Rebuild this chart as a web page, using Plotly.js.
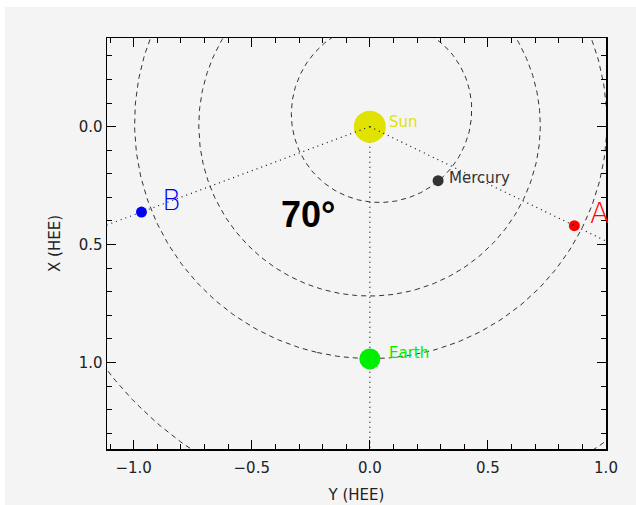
<!DOCTYPE html>
<html>
<head>
<meta charset="utf-8">
<script src="https://cdn.plot.ly/plotly-3.0.1.min.js"></script>
<style>
  html, body { margin:0; padding:0; background:#ffffff; width:636px; height:505px; overflow:hidden; }
  #chart { position:absolute; left:5px; top:7px; width:631px; height:498px; }
</style>
</head>
<body>
<div id="chart"></div>
<script>
// ---- Data ----
// Bodies in HEE coordinates (horizontal axis = Y_HEE, vertical axis = X_HEE)
const BODY_NAMES = ['Sun', 'Mercury', 'Earth', 'A', 'B'];
const BODY_Y_HEE = [0.000, 0.289, 0.000, 0.866, -0.967];
const BODY_X_HEE = [0.000, 0.229, 0.985, 0.420, 0.362];

// Orbital elements of the planet orbits drawn as dashed curves
const ORBIT_NAMES = ['Mercury', 'Venus', 'Earth', 'Mars'];
const ORBIT_SEMI_MAJOR = [0.387, 0.723, 1.000, 1.524];
const ORBIT_ECCENTRICITY = [0.2056, 0.0068, 0.0167, 0.0934];
const ORBIT_PERIHELION_LON = [77.5, 131.5, 102.9, 336.0];
const EARTH_LON = 116.0;

const ANGLE_LABEL = '70°';

const X_TICKS = [-1.0, -0.5, 0.0, 0.5, 1.0];
const Y_TICKS = [0.0, 0.5, 1.0];

// ---- Styles ----
const BODY_COLORS = ['#e2e200', '#333333', '#00ee00', '#ff0000', '#0000ff'];
const BODY_SIZES = [32, 11, 21, 11, 11];
const LABEL_STYLE = {
  'Sun':     {size: 15, xshift: 17, yshift: 5, weight: 'normal'},
  'Mercury': {size: 15, xshift: 9, yshift: 3, weight: 'normal'},
  'Earth':   {size: 15, xshift: 17, yshift: 6, weight: 'normal'},
  'A':       {size: 28, xshift: 14, yshift: 12, weight: 200},
  'B':       {size: 28, xshift: 19, yshift: 12, weight: 200}
};

const traces = [];

// orbits (Sun at focus)
for (let i = 0; i < ORBIT_NAMES.length; i++) {
  const a = ORBIT_SEMI_MAJOR[i], e = ORBIT_ECCENTRICITY[i];
  const wp = (ORBIT_PERIHELION_LON[i] - EARTH_LON) * Math.PI / 180;
  const xs = [], ys = [];
  for (let k = 0; k <= 360; k += 1) {
    const nu = k * Math.PI / 180;
    const r = a * (1 - e * e) / (1 + e * Math.cos(nu));
    const th = wp + nu;
    ys.push(r * Math.cos(th));   // X_HEE
    xs.push(r * Math.sin(th));   // Y_HEE
  }
  traces.push({
    x: xs, y: ys, mode: 'lines', type: 'scatter', hoverinfo: 'skip',
    line: {color: '#333333', width: 1, dash: '5px,4px'}, showlegend: false
  });
}

const sunIdx = BODY_NAMES.indexOf('Sun');
function sunLine(name) {
  const j = BODY_NAMES.indexOf(name);
  const k = 4;
  return {
    x: [BODY_Y_HEE[sunIdx], BODY_Y_HEE[sunIdx] + k * (BODY_Y_HEE[j] - BODY_Y_HEE[sunIdx])],
    y: [BODY_X_HEE[sunIdx], BODY_X_HEE[sunIdx] + k * (BODY_X_HEE[j] - BODY_X_HEE[sunIdx])],
    mode: 'lines', type: 'scatter', hoverinfo: 'skip', showlegend: false,
    line: {color: '#111111', width: 1.2, dash: '1px,4px'}
  };
}

traces.push(sunLine('Earth'));

traces.push({
  x: BODY_Y_HEE, y: BODY_X_HEE, mode: 'markers', type: 'scatter',
  text: BODY_NAMES, showlegend: false, cliponaxis: false,
  marker: {color: BODY_COLORS, size: BODY_SIZES, opacity: 1, line: {width: 0}}
});

traces.push(sunLine('A'));
traces.push(sunLine('B'));

const annotations = BODY_NAMES.map((n, i) => ({
  x: BODY_Y_HEE[i], y: BODY_X_HEE[i], xref: 'x', yref: 'y',
  text: n, showarrow: false, xanchor: 'left', yanchor: 'middle',
  xshift: LABEL_STYLE[n].xshift, yshift: LABEL_STYLE[n].yshift,
  font: {family: 'DejaVu Sans', size: LABEL_STYLE[n].size, color: BODY_COLORS[i], weight: LABEL_STYLE[n].weight}
}));
annotations.push({
  x: -0.262, y: 0.373, xref: 'x', yref: 'y', text: '<b>' + ANGLE_LABEL + '</b>',
  showarrow: false, xanchor: 'center', yanchor: 'middle',
  font: {family: 'Liberation Sans', size: 36, color: '#000000'}
});

const axisCommon = {
  showline: true, linecolor: '#000000', linewidth: 1.5, mirror: 'ticks',
  ticks: 'inside', ticklen: 9, tickwidth: 1, tickcolor: '#000000',
  showgrid: false, zeroline: false, tickmode: 'array', tickformat: '.1f',
  minor: {ticks: 'inside', ticklen: 5, tickwidth: 1, tickcolor: '#000000', dtick: 0.1, tick0: 0, showgrid: false},
  tickfont: {family: 'DejaVu Sans', size: 15, color: '#222222'},
  fixedrange: true
};

const layout = {
  width: 631, height: 498,
  margin: {l: 102, r: 30, t: 31, b: 56, pad: 0},
  paper_bgcolor: '#f4f4f4', plot_bgcolor: '#f4f4f4',
  showlegend: false,
  xaxis: Object.assign({}, axisCommon, {
    range: [-1.113, 1.0], tickvals: X_TICKS, ticklabelstandoff: 4,
    title: {text: 'Y (HEE)', font: {family: 'DejaVu Sans', size: 15, color: '#222222'}, standoff: 14}
  }),
  yaxis: Object.assign({}, axisCommon, {
    range: [1.367, -0.376], tickvals: Y_TICKS,
    title: {text: 'X (HEE)', font: {family: 'DejaVu Sans', size: 15, color: '#222222'}, standoff: 14}
  }),
  annotations: annotations
};

Plotly.newPlot('chart', traces, layout, {displayModeBar: false, staticPlot: true});
</script>
</body>
</html>
